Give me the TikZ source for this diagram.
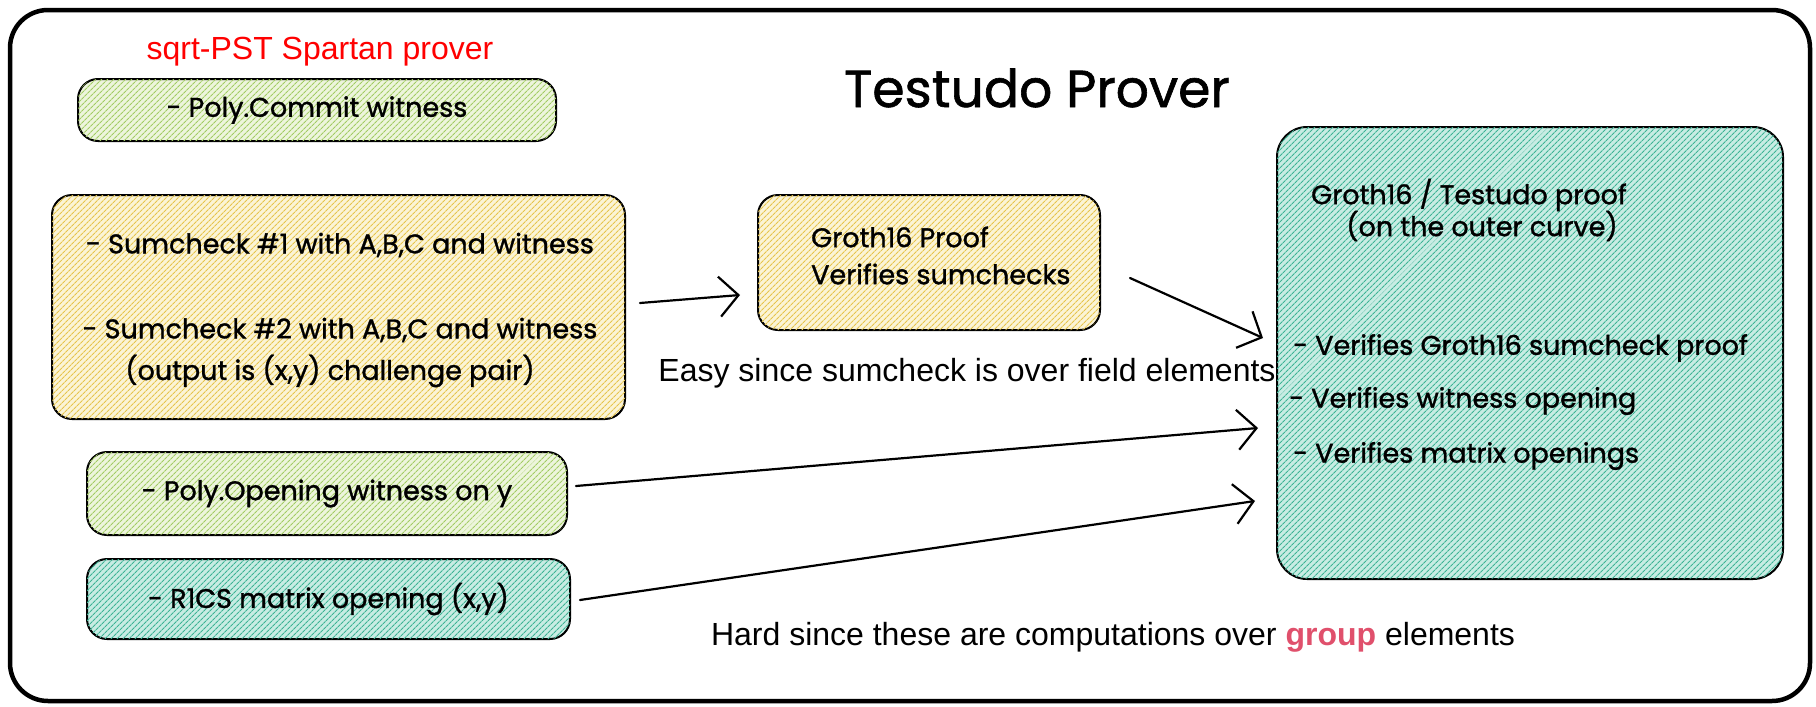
\documentclass[tikz,border=0pt]{standalone}
\usepackage{fontspec}
\setmainfont{Poppins}
\newfontfamily\handfont{Poppins}[FakeBold=1.2]
\newfontfamily\arialfont{Liberation Sans}
\usetikzlibrary{arrows.meta,patterns.meta}

\definecolor{greenbg}{HTML}{EDF5DC}
\definecolor{greenln}{HTML}{A2CC64}
\definecolor{yellowbg}{HTML}{FBF4D6}
\definecolor{yellowln}{HTML}{E6C44C}
\definecolor{tealbg}{HTML}{C8ECE3}
\definecolor{tealln}{HTML}{3DB394}
\definecolor{groupred}{HTML}{E0506C}

\begin{document}
\begin{tikzpicture}[x=1pt,y=-1pt,
  hand/.style={font=\handfont\fontsize{27}{32}\selectfont, inner sep=0pt},
  plain/.style={font=\arialfont\fontsize{32}{38}\selectfont, inner sep=0pt},
  sketchbox/.style={draw=black, line width=2pt, rounded corners=20pt, inner sep=0pt},
  greenbox/.style={sketchbox, fill=greenbg,
    postaction={pattern={Lines[angle=45,distance=4pt,line width=1.1pt]}, pattern color=greenln}},
  yellowbox/.style={sketchbox, fill=yellowbg,
    postaction={pattern={Lines[angle=45,distance=4pt,line width=1.1pt]}, pattern color=yellowln}},
  tealbox/.style={sketchbox, fill=tealbg,
    postaction={pattern={Lines[angle=45,distance=4pt,line width=1.1pt]}, pattern color=tealln}},
  arr/.style={line width=2.2pt, line cap=round,
    -{Straight Barb[length=19pt,width=40pt,line width=2.2pt]}},
]
\useasboundingbox (0,0) rectangle (1816,707);

% outer frame
\draw[line width=4.5pt, rounded corners=38pt] (10,10) rectangle (1810,701);

% headings
\node[font=\arialfont\fontsize{32}{38}\selectfont, text=red, inner sep=0pt] (sub) at (320,52) {sqrt-PST Spartan prover};
\node[font=\handfont\fontsize{52}{60}\selectfont, inner sep=0pt] (title) at (1037,88) {Testudo Prover};

% left column
\node[greenbox, minimum width=478pt, minimum height=62pt] (commit) at (317,110) {};
\node[hand] at (commit.center) {- Poly.Commit witness};

\node[yellowbox, minimum width=573pt, minimum height=224pt] (sum) at (338.5,307) {};
\node[hand] at (340,245) {- Sumcheck \#1 with A,B,C and witness};
\node[hand] at (340,330) {- Sumcheck \#2 with A,B,C and witness};
\node[hand] at (330,371) {(output is (x,y) challenge pair)};

\node[greenbox, minimum width=480pt, minimum height=83pt] (open) at (327,493.5) {};
\node[hand] at (open.center) {- Poly.Opening witness on y};

\node[tealbox, minimum width=483pt, minimum height=80pt] (rics) at (328.5,599) {};
\node[hand] at (rics.center) {- R1CS matrix opening (x,y)};

% middle
\node[yellowbox, minimum width=342pt, minimum height=135pt] (groth) at (929,262.5) {};
\node[hand, anchor=west] at (811,237) {Groth16 Proof};
\node[hand, anchor=west] at (811,274) {Verifies sumchecks};
\node[plain] (easy) at (967,373) {Easy since sumcheck is over field elements};

% right
\node[tealbox, rounded corners=30pt, minimum width=506pt, minimum height=452pt] (big) at (1530,353) {};
\node[hand] at (1469,195) {Groth16 / Testudo proof};
\node[hand] at (1482,226) {(on the outer curve)};
\node[hand, anchor=west] at (1293,348) {- Verifies Groth16 sumcheck proof};
\node[hand, anchor=west] at (1289,401) {- Verifies witness opening};
\node[hand, anchor=west] at (1293,456) {- Verifies matrix openings};

\node[plain] (hard) at (1113,637) {Hard since these are computations over \textcolor{groupred}{\bfseries group} elements};

% connectors
\draw[arr] ([shift={(14,-4)}]sum.east) -- ([shift={(-17,32.5)}]groth.west);
\draw[arr] ([shift={(29,15.5)}]groth.east) -- ([shift={(-13,-15)}]big.west);
\draw[arr] ([shift={(8,-7.5)}]open.east) -- ([shift={(-18,75)}]big.west);
\draw[arr] ([shift={(9,1)}]rics.east) -- ([shift={(-21,148)}]big.west);
\end{tikzpicture}
\end{document}
